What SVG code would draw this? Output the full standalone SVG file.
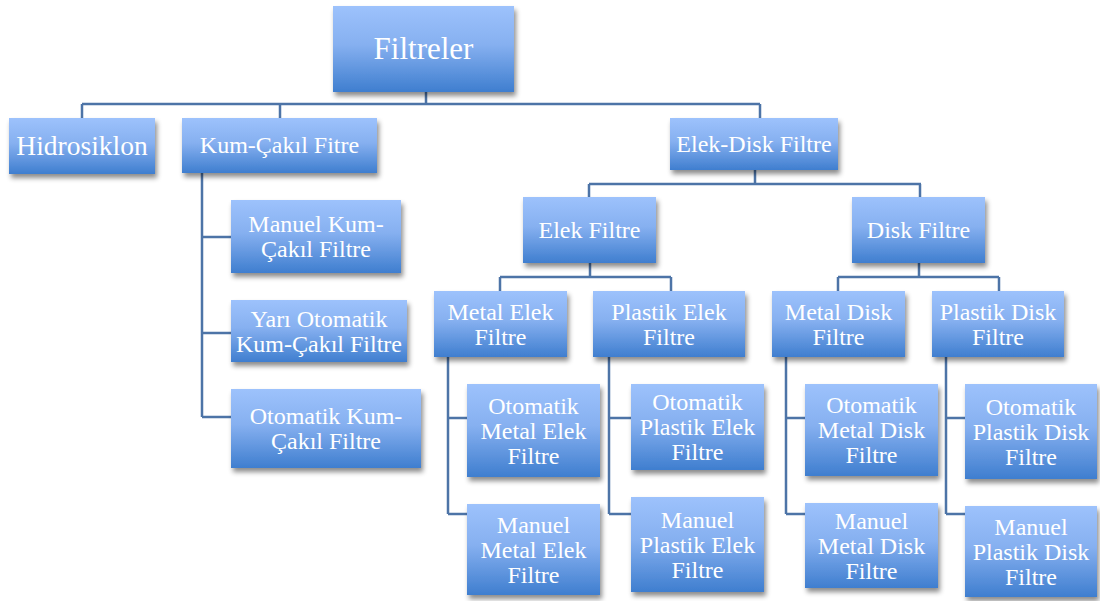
<svg xmlns="http://www.w3.org/2000/svg" width="1100" height="601" viewBox="0 0 1100 601">
<defs>
<linearGradient id="g" x1="0" y1="0" x2="0" y2="1">
<stop offset="0" stop-color="#9dc2fc"/>
<stop offset="0.45" stop-color="#86b0f0"/>
<stop offset="1" stop-color="#3f7ecf"/>
</linearGradient>
<filter id="sh" x="-10%" y="-10%" width="130%" height="140%">
<feDropShadow dx="2" dy="4" stdDeviation="2.5" flood-color="#000" flood-opacity="0.45"/>
</filter>
</defs>
<style>
.n rect{fill:url(#g);filter:url(#sh)}
.n text{fill:#fff;font-family:"Liberation Serif","Times New Roman",serif;font-size:24px;text-anchor:middle}
.c path{fill:none;stroke:#4d74a7;stroke-width:2.5}
</style>
<rect width="1100" height="601" fill="#fff"/>
<g class="c">
<path d="M426,92V104M82,104H760M82,104V118M280,104V118M760,104V118"/>
<path d="M202,173V417M202,237H231M202,333H231M202,417H231"/>
<path d="M755,170V184M589,184H921M589,184V197M920,184V197"/>
<path d="M590,263V277M500,277H671M500,277V291M671,277V291"/>
<path d="M919,263V277M838,277H999M838,277V291M999,277V291"/>
<path d="M448,357V514M448,418H467M448,514H467"/>
<path d="M609,357V514M609,418H631M609,514H631"/>
<path d="M786,357V514M786,418H805M786,514H805"/>
<path d="M946,357V514M946,418H965M946,514H965"/>
</g>
<g class="n" id="filtreler"><rect x="333" y="6" width="181" height="86"/><text x="423.5" y="59" style="font-size:31px">Filtreler</text></g>
<g class="n" id="hidrosiklon"><rect x="9" y="118" width="146" height="56"/><text x="82" y="155" style="font-size:27.5px">Hidrosiklon</text></g>
<g class="n" id="kumcakil"><rect x="182" y="118" width="195" height="55"/><text x="279.5" y="153">Kum-Çakıl Fitre</text></g>
<g class="n" id="elekdisk"><rect x="670" y="118" width="168" height="52"/><text x="754" y="152">Elek-Disk Filtre</text></g>
<g class="n" id="manuelkum"><rect x="231" y="200" width="170" height="73"/><text x="316" y="232">Manuel Kum-</text><text x="316" y="257">Çakıl Filtre</text></g>
<g class="n" id="yarikum"><rect x="231" y="300" width="176" height="62"/><text x="319" y="326.5">Yarı Otomatik</text><text x="319" y="351.5">Kum-Çakıl Filtre</text></g>
<g class="n" id="otokum"><rect x="231" y="389" width="190" height="79"/><text x="326" y="424">Otomatik Kum-</text><text x="326" y="449">Çakıl Filtre</text></g>
<g class="n" id="elek"><rect x="523" y="197" width="133" height="66"/><text x="589.5" y="238">Elek Filtre</text></g>
<g class="n" id="disk"><rect x="852" y="197" width="133" height="66"/><text x="918.5" y="238">Disk Filtre</text></g>
<g class="n" id="metalelek"><rect x="434" y="291" width="133" height="66"/><text x="500.5" y="319.5">Metal Elek</text><text x="500.5" y="344.5">Filtre</text></g>
<g class="n" id="plastikelek"><rect x="593" y="291" width="152" height="66"/><text x="669" y="319.5">Plastik Elek</text><text x="669" y="344.5">Filtre</text></g>
<g class="n" id="metaldisk"><rect x="772" y="291" width="133" height="66"/><text x="838.5" y="319.5">Metal Disk</text><text x="838.5" y="344.5">Filtre</text></g>
<g class="n" id="plastikdisk"><rect x="932" y="291" width="132" height="66"/><text x="998" y="319.5">Plastik Disk</text><text x="998" y="344.5">Filtre</text></g>
<g class="n" id="otometalelek"><rect x="467" y="384" width="133" height="93"/><text x="533.5" y="413.5">Otomatik</text><text x="533.5" y="438.5">Metal Elek</text><text x="533.5" y="463.5">Filtre</text></g>
<g class="n" id="manmetalelek"><rect x="467" y="504" width="133" height="91"/><text x="533.5" y="532.5">Manuel</text><text x="533.5" y="557.5">Metal Elek</text><text x="533.5" y="582.5">Filtre</text></g>
<g class="n" id="otoplastikelek"><rect x="631" y="384" width="133" height="86"/><text x="697.5" y="410">Otomatik</text><text x="697.5" y="435">Plastik Elek</text><text x="697.5" y="460">Filtre</text></g>
<g class="n" id="manplastikelek"><rect x="631" y="497" width="133" height="95"/><text x="697.5" y="527.5">Manuel</text><text x="697.5" y="552.5">Plastik Elek</text><text x="697.5" y="577.5">Filtre</text></g>
<g class="n" id="otometaldisk"><rect x="805" y="384" width="133" height="92"/><text x="871.5" y="413">Otomatik</text><text x="871.5" y="438">Metal Disk</text><text x="871.5" y="463">Filtre</text></g>
<g class="n" id="manmetaldisk"><rect x="805" y="503" width="133" height="85"/><text x="871.5" y="528.5">Manuel</text><text x="871.5" y="553.5">Metal Disk</text><text x="871.5" y="578.5">Filtre</text></g>
<g class="n" id="otoplastikdisk"><rect x="965" y="384" width="132" height="95"/><text x="1031" y="414.5">Otomatik</text><text x="1031" y="439.5">Plastik Disk</text><text x="1031" y="464.5">Filtre</text></g>
<g class="n" id="manplastikdisk"><rect x="965" y="506" width="132" height="91"/><text x="1031" y="534.5">Manuel</text><text x="1031" y="559.5">Plastik Disk</text><text x="1031" y="584.5">Filtre</text></g>
</svg>
